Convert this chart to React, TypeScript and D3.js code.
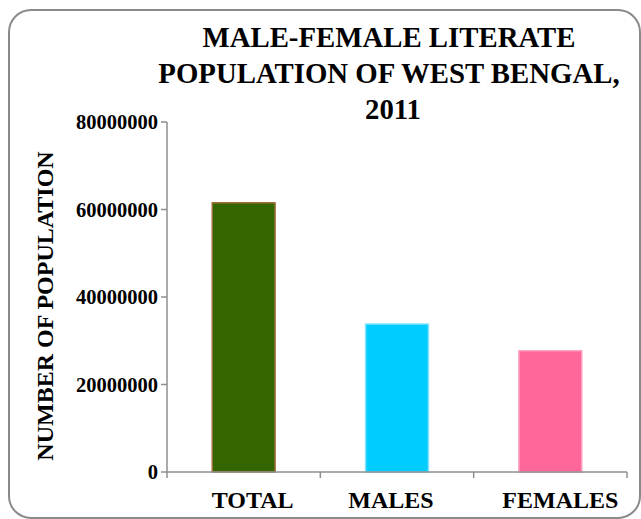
import React from "react";
import * as d3 from "d3";

const categories = ["TOTAL", "MALES", "FEMALES"];
const values = [61538281, 33818810, 27719471];
const fills = ["#336600", "#00CCFF", "#FF6699"];
const strokes = ["#A0703A", "#7FE3FF", "#FFA3C2"];
const yTicks = [0, 20000000, 40000000, 60000000, 80000000];
const titleLines = ["MALE-FEMALE LITERATE", "POPULATION OF WEST BENGAL,", "2011"];
const yTitle = "NUMBER OF POPULATION";

const W = 641;
const H = 519;
const left = 167;
const right = 627;
const top = 122;
const bottom = 472;
// horizontal nudges of the category labels relative to their band centres
const labelNudge = [9, -6, 10];

export default function App() {
  const x = d3.scaleBand<string>().domain(categories).range([left, right]).paddingInner(0.59).paddingOuter(0.295);
  const band = d3.scaleBand<string>().domain(categories).range([left, right]);
  const y = d3.scaleLinear().domain([0, 80000000]).range([bottom, top]);
  const font = "'Liberation Serif', 'Times New Roman', serif";
  const axisColor = "#8f8f8f";

  const xBoundaries = [left, ...categories.map((c) => (band(c) as number) + band.bandwidth())];

  return (
    <svg width={W} height={H} style={{ position: "absolute", left: 0, top: 0 }} fontFamily={font}>
      <rect x={0} y={0} width={W} height={H} fill="#fff" />
      <rect x={9} y={10} width={631} height={508} rx={22} ry={22} fill="#fff" stroke="#8a8a8a" strokeWidth={2} />

      {titleLines.map((t, i) => (
        <text key={t} x={i === 2 ? 393 : 389} y={46.5 + i * 36.2} textAnchor="middle" fontWeight="bold" fontSize={28.8} fill="#000">
          {t}
        </text>
      ))}

      {/* bars */}
      {categories.map((c, i) => (
        <rect
          key={c}
          x={x(c)}
          y={y(values[i])}
          width={x.bandwidth()}
          height={bottom - y(values[i])}
          fill={fills[i]}
          stroke={strokes[i]}
          strokeWidth={1.5}
        />
      ))}

      {/* y axis */}
      <line x1={left} x2={left} y1={top} y2={bottom} stroke={axisColor} strokeWidth={1.5} />
      {yTicks.map((t) => (
        <g key={t}>
          <line x1={left - 6} x2={left} y1={y(t)} y2={y(t)} stroke={axisColor} strokeWidth={1.5} />
          <text x={left - 9} y={y(t)} dy="0.35em" textAnchor="end" fontWeight="bold" fontSize={20.5} fill="#000">
            {t}
          </text>
        </g>
      ))}

      {/* x axis */}
      <line x1={left} x2={right} y1={bottom} y2={bottom} stroke={axisColor} strokeWidth={1.5} />
      {xBoundaries.map((b, i) => (
        <line key={i} x1={b} x2={b} y1={bottom} y2={bottom + 6} stroke={axisColor} strokeWidth={1.5} />
      ))}
      {categories.map((c, i) => (
        <text
          key={c}
          x={(band(c) as number) + band.bandwidth() / 2 + labelNudge[i]}
          y={508}
          textAnchor="middle"
          fontWeight="bold"
          fontSize={24}
          fill="#000"
        >
          {c}
        </text>
      ))}

      <text
        transform={`translate(53,306) rotate(-90)`}
        textAnchor="middle"
        fontWeight="bold"
        fontSize={24}
        fill="#000"
      >
        {yTitle}
      </text>
    </svg>
  );
}
